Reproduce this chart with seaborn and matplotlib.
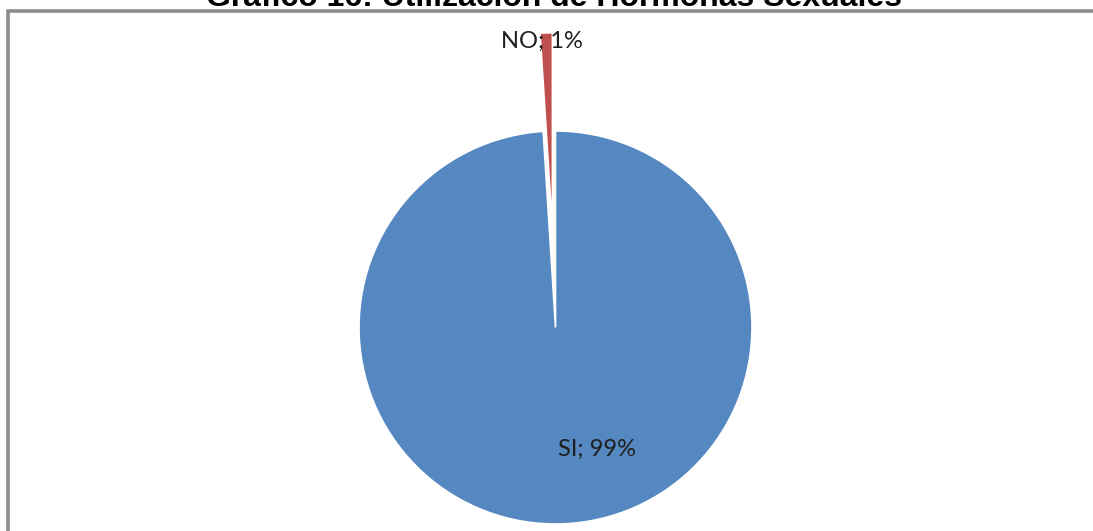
import matplotlib
matplotlib.use("Agg")
import matplotlib.pyplot as plt
from matplotlib.patches import Rectangle
import seaborn as sns

# Survey answers and their shares (%)
categories = ["SI", "NO"]
shares = [99, 1]
title = "Gráfico 16: Utilización de Hormonas Sexuales"

sns.set_style("white")
plt.rcParams["font.family"] = ["Lato", "DejaVu Sans"]

W, H = 1093, 531
fig = plt.figure(figsize=(W / 100, H / 100), dpi=100)
fig.patch.set_facecolor("white")

# Chart frame (runs off the right and bottom edges)
frame = Rectangle((8 / W, 0 - 0.05), 1.2, (H - 11) / H + 0.05,
                  transform=fig.transFigure, fill=False,
                  edgecolor="#8c8c8c", linewidth=2.6, clip_on=False)
fig.patches.append(frame)

ax = fig.add_axes([0, 0, 1, 1])
ax.set_axis_off()

colors = ["#5587C0", "#C0504D"]
wedges, _ = ax.pie(shares, colors=colors, startangle=90, counterclock=False,
                   explode=[0, 0.5], radius=1.0,
                   wedgeprops=dict(edgecolor="white", linewidth=1.2))

# Map the unit pie onto the figure: centre and radius in pixels
cx, cy, r = 555.5, 327.5, 196.5
ax.set_aspect("auto")
ax.set_xlim(-cx / r, (W - cx) / r)
ax.set_ylim((cy - H) / r, cy / r)

ax.text(0.21, -0.62, f"{categories[0]}; {shares[0]}%", ha="center", va="center",
        fontsize=17, color="#1f1f1f")
ax.text(-0.07, 1.455, f"{categories[1]}; {shares[1]}%", ha="center", va="center",
        fontsize=17, color="#1f1f1f")

fig.text(554 / W, (H - 6.5) / H, title, ha="center", va="baseline",
         fontsize=23, fontweight="bold", family="Liberation Sans", color="black")

fig.savefig("out.png", dpi=100, facecolor="white")
